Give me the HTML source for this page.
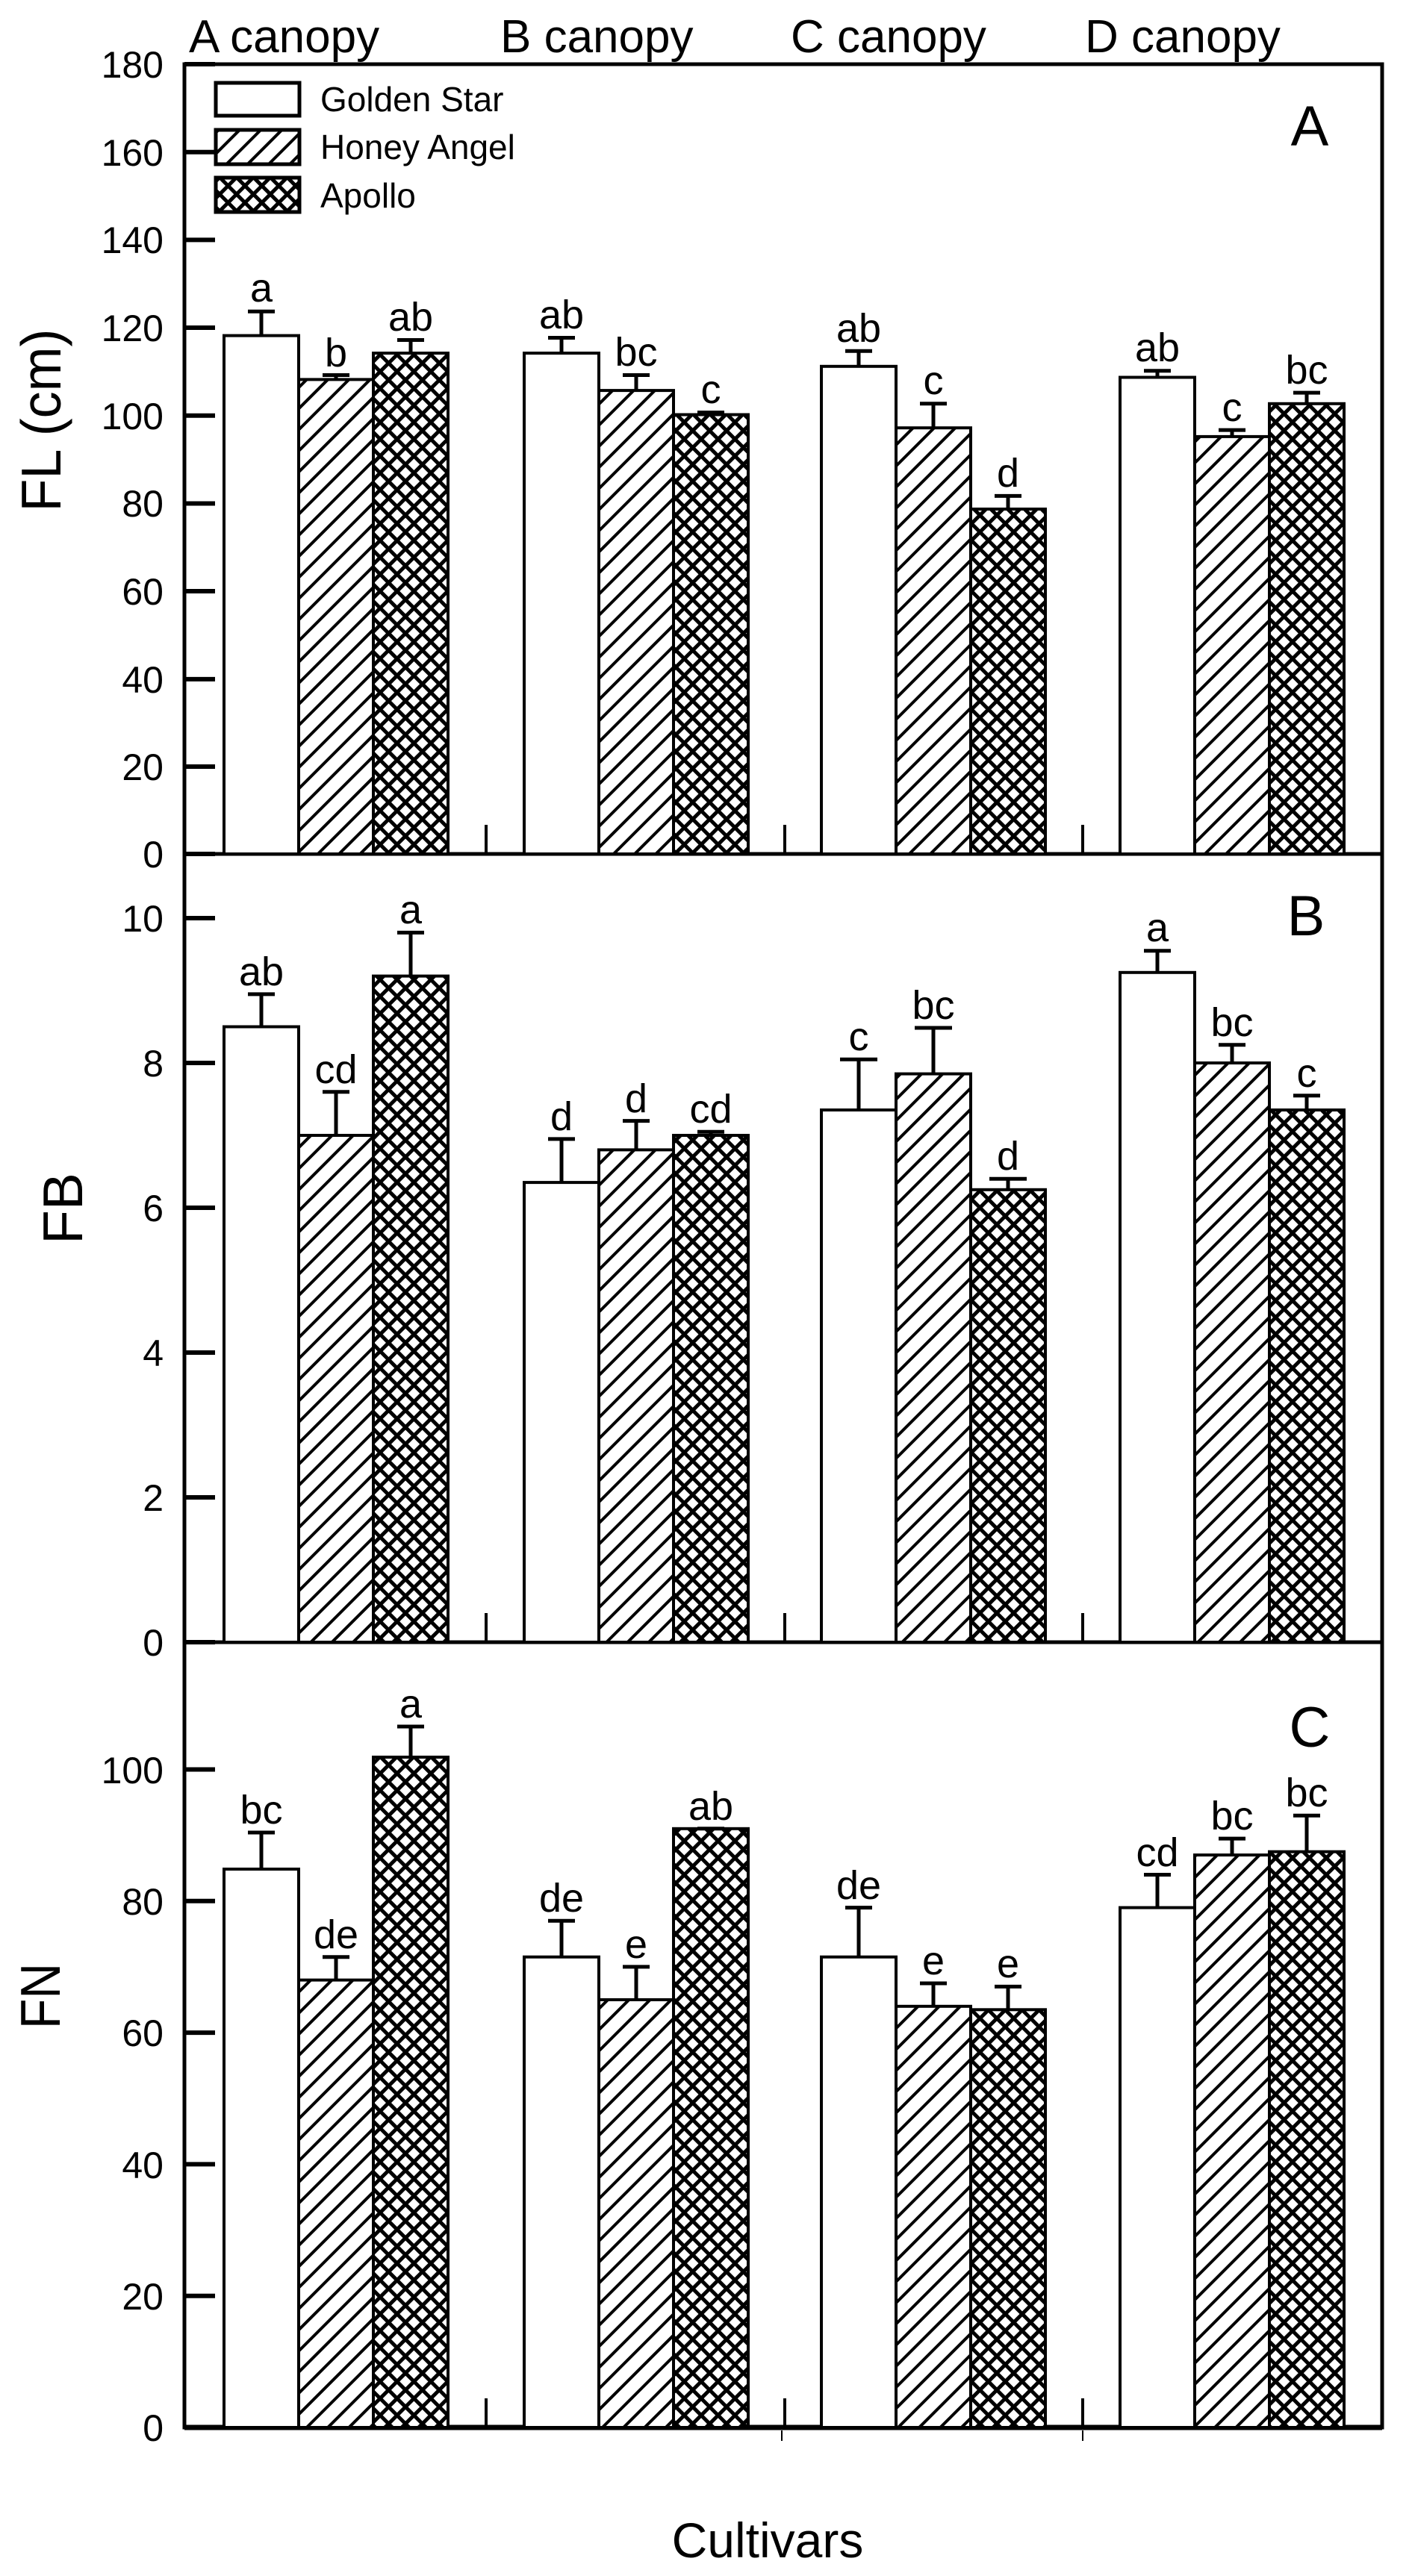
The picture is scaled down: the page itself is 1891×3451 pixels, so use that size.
<!DOCTYPE html>
<html><head><meta charset="utf-8"><style>html,body{margin:0;padding:0;background:#fff}svg{display:block}</style></head>
<body>
<svg xmlns="http://www.w3.org/2000/svg" width="1891" height="3451" viewBox="0 0 1891 3451" font-family="Liberation Sans, Arial, sans-serif">
<defs>
<pattern id="h" patternUnits="userSpaceOnUse" width="20" height="20" patternTransform="rotate(45)">
<rect width="20" height="20" fill="#fff"/><line x1="10" y1="0" x2="10" y2="20" stroke="#000" stroke-width="4"/></pattern>
<pattern id="x" patternUnits="userSpaceOnUse" width="16" height="16" patternTransform="rotate(45)">
<rect width="16" height="16" fill="#fff"/><line x1="8" y1="0" x2="8" y2="16" stroke="#000" stroke-width="5"/><line x1="0" y1="8" x2="16" y2="8" stroke="#000" stroke-width="5"/></pattern>
</defs>
<rect width="1891" height="3451" fill="#fff"/>
<g font-size="62">
<text x="253" y="70">A canopy</text><text x="670" y="70">B canopy</text><text x="1059" y="70">C canopy</text><text x="1453" y="70">D canopy</text>
</g>
<g fill="none" stroke="#000" stroke-width="5">
<rect x="247" y="86" width="1604" height="3166"/>
<line x1="247" y1="1144" x2="1851" y2="1144"/>
<line x1="247" y1="2200" x2="1851" y2="2200"/>
<line x1="247" y1="3252" x2="1851" y2="3252" stroke-width="7"/>
</g>
<g stroke="#000" stroke-width="4">
<line x1="651" y1="1144" x2="651" y2="1105"/><line x1="1051" y1="1144" x2="1051" y2="1105"/><line x1="1450" y1="1144" x2="1450" y2="1105"/>
<line x1="651" y1="2200" x2="651" y2="2161"/><line x1="1051" y1="2200" x2="1051" y2="2161"/><line x1="1450" y1="2200" x2="1450" y2="2161"/>
<line x1="651" y1="3252" x2="651" y2="3213"/><line x1="1051" y1="3252" x2="1051" y2="3213"/><line x1="1450" y1="3252" x2="1450" y2="3213"/>
<line x1="1047" y1="3256" x2="1047" y2="3270" stroke-width="2"/><line x1="1450" y1="3256" x2="1450" y2="3270" stroke-width="2"/>
</g>
<g stroke="#000" stroke-width="6">
<line x1="247" y1="86" x2="288" y2="86"/><line x1="247" y1="203.7" x2="288" y2="203.7"/><line x1="247" y1="321.4" x2="288" y2="321.4"/><line x1="247" y1="439" x2="288" y2="439"/><line x1="247" y1="556.8" x2="288" y2="556.8"/><line x1="247" y1="674.5" x2="288" y2="674.5"/><line x1="247" y1="792" x2="288" y2="792"/><line x1="247" y1="909.9" x2="288" y2="909.9"/><line x1="247" y1="1027" x2="288" y2="1027"/><line x1="247" y1="1144" x2="288" y2="1144"/>
<line x1="247" y1="1230" x2="288" y2="1230"/><line x1="247" y1="1424" x2="288" y2="1424"/><line x1="247" y1="1618" x2="288" y2="1618"/><line x1="247" y1="1812" x2="288" y2="1812"/><line x1="247" y1="2006" x2="288" y2="2006"/><line x1="247" y1="2200" x2="288" y2="2200"/>
<line x1="247" y1="2370.5" x2="288" y2="2370.5"/><line x1="247" y1="2546.8" x2="288" y2="2546.8"/><line x1="247" y1="2723.1" x2="288" y2="2723.1"/><line x1="247" y1="2899.4" x2="288" y2="2899.4"/><line x1="247" y1="3075.7" x2="288" y2="3075.7"/><line x1="247" y1="3252" x2="288" y2="3252"/>
</g>
<g font-size="50" text-anchor="end">
<text x="219" y="104">180</text><text x="219" y="222">160</text><text x="219" y="339">140</text><text x="219" y="457">120</text><text x="219" y="575">100</text><text x="219" y="692">80</text><text x="219" y="810">60</text><text x="219" y="928">40</text><text x="219" y="1045">20</text><text x="219" y="1162">0</text>
<text x="219" y="1248">10</text><text x="219" y="1442">8</text><text x="219" y="1636">6</text><text x="219" y="1830">4</text><text x="219" y="2024">2</text><text x="219" y="2218">0</text>
<text x="219" y="2389">100</text><text x="219" y="2565">80</text><text x="219" y="2741">60</text><text x="219" y="2918">40</text><text x="219" y="3094">20</text><text x="219" y="3270">0</text>
</g>
<g font-size="75" text-anchor="middle">
<text transform="translate(81,563) rotate(-90)" textLength="245" lengthAdjust="spacingAndGlyphs">FL (cm)</text>
<text transform="translate(110,1619) rotate(-90)">FB</text>
<text transform="translate(80,2674) rotate(-90)" textLength="88" lengthAdjust="spacingAndGlyphs">FN</text>
</g>
<text x="1028" y="3426" font-size="66" text-anchor="middle">Cultivars</text>
<g font-size="76" text-anchor="middle">
<text x="1754" y="195">A</text><text x="1749" y="1253">B</text><text x="1754" y="2340">C</text>
</g>
<g stroke="#000" stroke-width="5">
<rect x="289" y="111" width="112" height="44" fill="#fff"/>
<rect x="289" y="174" width="112" height="46" fill="url(#h)"/>
<rect x="289" y="238" width="112" height="46" fill="url(#x)"/>
</g>
<g font-size="46"><text x="429" y="149">Golden Star</text><text x="429" y="213">Honey Angel</text><text x="429" y="278">Apollo</text></g>

<g stroke="#000" stroke-width="4">
<rect x="300" y="449.6" width="100" height="694.4" fill="#fff"/>
<rect x="400" y="508.4" width="100" height="635.6" fill="url(#h)"/>
<rect x="500" y="473.1" width="100" height="670.9" fill="url(#x)"/>
<rect x="702" y="473.1" width="100" height="670.9" fill="#fff"/>
<rect x="802" y="523.1" width="100" height="620.9" fill="url(#h)"/>
<rect x="902" y="555.5" width="100" height="588.5" fill="url(#x)"/>
<rect x="1100" y="490.8" width="100" height="653.2" fill="#fff"/>
<rect x="1200" y="573.2" width="100" height="570.8" fill="url(#h)"/>
<rect x="1300" y="682" width="100" height="462" fill="url(#x)"/>
<rect x="1500" y="505.5" width="100" height="638.5" fill="#fff"/>
<rect x="1600" y="584.9" width="100" height="559.1" fill="url(#h)"/>
<rect x="1700" y="540.8" width="100" height="603.2" fill="url(#x)"/>
<rect x="300" y="1375.5" width="100" height="824.5" fill="#fff"/>
<rect x="400" y="1521" width="100" height="679" fill="url(#h)"/>
<rect x="500" y="1307.6" width="100" height="892.4" fill="url(#x)"/>
<rect x="702" y="1584.1" width="100" height="615.9" fill="#fff"/>
<rect x="802" y="1540.4" width="100" height="659.6" fill="url(#h)"/>
<rect x="902" y="1521" width="100" height="679" fill="url(#x)"/>
<rect x="1100" y="1487" width="100" height="713" fill="#fff"/>
<rect x="1200" y="1438.6" width="100" height="761.4" fill="url(#h)"/>
<rect x="1300" y="1593.8" width="100" height="606.2" fill="url(#x)"/>
<rect x="1500" y="1302.8" width="100" height="897.2" fill="#fff"/>
<rect x="1600" y="1424" width="100" height="776" fill="url(#h)"/>
<rect x="1700" y="1487" width="100" height="713" fill="url(#x)"/>
<rect x="300" y="2504" width="100" height="748" fill="#fff"/>
<rect x="400" y="2652.6" width="100" height="599.4" fill="url(#h)"/>
<rect x="500" y="2354" width="100" height="898" fill="url(#x)"/>
<rect x="702" y="2621.7" width="100" height="630.3" fill="#fff"/>
<rect x="802" y="2679" width="100" height="573" fill="url(#h)"/>
<rect x="902" y="2449.8" width="100" height="802.2" fill="url(#x)"/>
<rect x="1100" y="2621.7" width="100" height="630.3" fill="#fff"/>
<rect x="1200" y="2687.8" width="100" height="564.2" fill="url(#h)"/>
<rect x="1300" y="2692.3" width="100" height="559.7" fill="url(#x)"/>
<rect x="1500" y="2555.6" width="100" height="696.4" fill="#fff"/>
<rect x="1600" y="2485.1" width="100" height="766.9" fill="url(#h)"/>
<rect x="1700" y="2480.7" width="100" height="771.3" fill="url(#x)"/>
</g>
<g stroke="#000" stroke-width="5" fill="none">
<path d="M350 449.6V417.2M332 417.2H368 M450 508.4V502.5M432 502.5H468 M550 473.1V455.5M532 455.5H568"/>
<path d="M752 473.1V452.5M734 452.5H770 M852 523.1V502.5M834 502.5H870 M952 555.5V552.6M934 552.6H970"/>
<path d="M1150 490.8V470.2M1132 470.2H1168 M1250 573.2V540.8M1232 540.8H1268 M1350 682V664.4M1332 664.4H1368"/>
<path d="M1550 505.5V496.7M1532 496.7H1568 M1650 584.9V576.1M1632 576.1H1668 M1750 540.8V526.1M1732 526.1H1768"/>
<path d="M350 1375.5V1331.9M332 1331.9H368 M450 1521V1462.8M432 1462.8H468 M550 1307.6V1249.4M532 1249.4H568"/>
<path d="M752 1584.1V1525.9M734 1525.9H770 M852 1540.4V1501.6M834 1501.6H870 M952 1521V1516.2M934 1516.2H970"/>
<path d="M1150 1487V1419.2M1125 1419.2H1175 M1250 1438.6V1377M1225 1377H1275 M1350 1593.8V1579.2M1325 1579.2H1375"/>
<path d="M1550 1302.8V1273.7M1532 1273.7H1568 M1650 1424V1399.8M1632 1399.8H1668 M1750 1487V1467.7M1732 1467.7H1768"/>
<path d="M350 2504V2455M332 2455H368 M450 2652.6V2621.7M432 2621.7H468 M550 2354V2313M532 2313H568"/>
<path d="M752 2621.7V2573.2M734 2573.2H770 M852 2679V2634.9M834 2634.9H870 M952 2449.8V2449.8M934 2449.8H970"/>
<path d="M1150 2621.7V2555.6M1132 2555.6H1168 M1250 2687.8V2657M1232 2657H1268 M1350 2692.3V2661.4M1332 2661.4H1368"/>
<path d="M1550 2555.6V2511.5M1532 2511.5H1568 M1650 2485.1V2463.1M1632 2463.1H1668 M1750 2480.7V2432.2M1732 2432.2H1768"/>
</g>
<g font-size="54" text-anchor="middle">
<text x="350" y="404">a</text><text x="450" y="491">b</text><text x="550" y="443">ab</text>
<text x="752" y="440">ab</text><text x="852" y="490">bc</text><text x="952" y="540">c</text>
<text x="1150" y="458">ab</text><text x="1250" y="528">c</text><text x="1350" y="652">d</text>
<text x="1550" y="484">ab</text><text x="1650" y="564">c</text><text x="1750" y="514">bc</text>
<text x="350" y="1320">ab</text><text x="450" y="1451">cd</text><text x="550" y="1237">a</text>
<text x="752" y="1514">d</text><text x="852" y="1490">d</text><text x="952" y="1504">cd</text>
<text x="1150" y="1407">c</text><text x="1250" y="1365">bc</text><text x="1350" y="1567">d</text>
<text x="1550" y="1261">a</text><text x="1650" y="1388">bc</text><text x="1750" y="1456">c</text>
<text x="350" y="2443">bc</text><text x="450" y="2610">de</text><text x="550" y="2301">a</text>
<text x="752" y="2561">de</text><text x="852" y="2623">e</text><text x="952" y="2438">ab</text>
<text x="1150" y="2544">de</text><text x="1250" y="2645">e</text><text x="1350" y="2649">e</text>
<text x="1550" y="2500">cd</text><text x="1650" y="2451">bc</text><text x="1750" y="2420">bc</text>
</g>
</svg>
</body></html>
